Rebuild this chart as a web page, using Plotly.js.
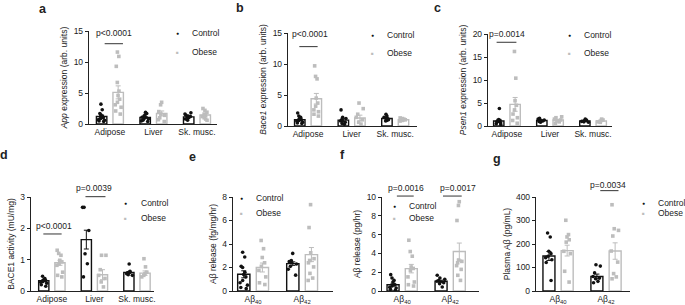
<!DOCTYPE html>
<html><head><meta charset="utf-8">
<script src="https://cdn.plot.ly/plotly-3.0.1.min.js"></script>
<style>html,body{margin:0;padding:0;background:#fff}#chart{width:685px;height:305px}</style>
</head><body><div id="chart"></div>
<script>
// ---------- DATA ----------
const tissueCats = ['Adipose', 'Liver', 'Sk. musc.'];
const abCats = ['Aβ<sub>40</sub>', 'Aβ<sub>42</sub>'];

// a: App expression
const aCtrlMean = [1.2, 1.05, 1.15];
const aCtrlSem  = [0.22, 0.15, 0.12];
const aObMean   = [5.1, 1.7, 1.45];
const aObSem    = [1.05, 0.4, 0.18];
const aCtrlPts = [[3.2, 2.3, 1.7, 1.5, 1.3, 1.1, 1.0, 0.9, 0.7, 0.6, 0.5, 0.4],
                  [1.9, 1.7, 1.5, 1.3, 1.1, 0.9, 0.8, 0.6, 0.5, 0.4],
                  [1.8, 1.6, 1.4, 1.3, 1.2, 1.1, 1.0, 0.8, 0.6]];
const aObPts   = [[11.6, 10.9, 9.3, 6.7, 5.3, 4.6, 4.0, 3.5, 3.1, 2.7, 2.1, 1.6],
                  [3.5, 3.1, 2.0, 1.6, 1.4, 1.0, 0.7, 0.4],
                  [2.5, 2.2, 1.9, 1.6, 1.4, 1.2, 1.0, 0.8, 0.6]];

// b: Bace1 expression
const bCtrlMean = [1.0, 0.95, 1.2];
const bCtrlSem  = [0.15, 0.22, 0.1];
const bObMean   = [4.4, 1.3, 1.0];
const bObSem    = [0.85, 0.45, 0.06];
const bCtrlPts = [[2.1, 1.6, 1.4, 1.2, 1.0, 0.9, 0.8, 0.6, 0.5, 0.4],
                  [2.6, 1.4, 1.2, 1.0, 0.8, 0.6, 0.4, 0.3],
                  [1.9, 1.6, 1.4, 1.3, 1.2, 1.0, 0.9, 0.8]];
const bObPts   = [[9.7, 8.0, 7.6, 4.5, 3.7, 3.2, 2.6, 2.3, 1.9, 1.6],
                  [3.7, 2.8, 1.9, 1.4, 1.0, 0.6, 0.3],
                  [1.3, 1.2, 1.1, 1.0, 1.0, 0.9, 0.8]];

// c: Psen1 expression
const cCtrlMean = [1.1, 1.2, 1.1];
const cCtrlSem  = [0.35, 0.1, 0.06];
const cObMean   = [4.7, 1.3, 1.1];
const cObSem    = [1.5, 0.15, 0.07];
const cCtrlPts = [[3.8, 1.4, 1.2, 1.0, 0.9, 0.7, 0.5, 0.3],
                  [1.7, 1.5, 1.3, 1.2, 1.1, 1.0, 0.8],
                  [1.5, 1.3, 1.2, 1.1, 1.0, 0.9, 0.8]];
const cObPts   = [[16.2, 10.4, 5.5, 4.5, 3.5, 2.6, 1.8, 1.2, 0.6],
                  [2.0, 1.8, 1.5, 1.3, 1.1, 0.9, 0.6],
                  [1.5, 1.3, 1.2, 1.0, 0.9, 0.8]];

// d: BACE1 activity
const dCtrlMean = [0.33, 1.64, 0.59];
const dCtrlSem  = [0.03, 0.3, 0.03];
const dObMean   = [0.9, 0.52, 0.57];
const dObSem    = [0.08, 0.16, 0.07];
const dCtrlPts = [[0.47, 0.4, 0.36, 0.33, 0.3, 0.28, 0.25, 0.2, 0.15],
                  [2.67, 2.67, 1.93, 1.19, 0.87, 0.45],
                  [0.86, 0.63, 0.6, 0.58, 0.55, 0.52, 0.5]];
const dObPts   = [[1.3, 1.2, 1.14, 0.98, 0.93, 0.87, 0.82, 0.6, 0.5, 0.45],
                  [1.14, 1.14, 0.68, 0.5, 0.4, 0.29, 0.13],
                  [1.03, 0.77, 0.6, 0.55, 0.5, 0.45]];

// e: Aβ release (fg/mg/hr)
const eCtrlMean = [1.42, 2.33];
const eCtrlSem  = [0.3, 0.15];
const eObMean   = [2.0, 3.1];
const eObSem    = [0.38, 0.6];
const eCtrlPts = [[3.3, 2.9, 2.1, 2.0, 1.6, 1.4, 1.2, 0.9, 0.7, 0.5, 0.3, 0.2],
                  [3.2, 2.6, 2.5, 2.4, 2.3, 2.1, 1.85, 1.35]];
const eObPts   = [[4.3, 3.6, 2.85, 2.4, 2.1, 1.75, 1.2, 0.7, 0.55],
                  [7.35, 5.4, 3.25, 2.75, 2.6, 2.4, 2.05, 1.5, 1.1, 0.9]];

// f: Aβ release (pg/hr)
const fCtrlMean = [0.67, 1.03];
const fCtrlSem  = [0.15, 0.12];
const fObMean   = [2.38, 4.2];
const fObSem    = [0.45, 0.9];
const fCtrlPts = [[1.74, 1.38, 1.13, 0.96, 0.67, 0.53, 0.4, 0.32, 0.18, 0.1],
                  [1.67, 1.38, 1.24, 1.1, 1.03, 0.89, 0.78, 0.43]];
const fObPts   = [[5.4, 4.2, 3.7, 2.55, 2.4, 2.2, 1.5, 0.96, 0.67, 0.53],
                  [9.5, 9.1, 7.5, 3.3, 3.15, 3.0, 2.7, 2.3, 1.67, 1.13]];

// g: Plasma Aβ (pg/mL)
const gCtrlMean = [149, 62];
const gCtrlSem  = [19, 10];
const gObMean   = [172, 170];
const gObSem    = [23, 35];
const gCtrlPts = [[247, 230, 169, 159, 148, 142, 133, 121, 45],
                  [112, 106, 77, 62, 55, 52, 41, 35]];
const gObPts   = [[301, 240, 230, 218, 208, 169, 159, 84, 38],
                  [367, 265, 258, 234, 170, 123, 74, 60, 52]];

const yTicksA = [0, 5, 10, 15];
const yTicksB = [0, 5, 10, 15];
const yTicksC = [0, 5, 10, 15, 20];
const yTicksD = [0, 1, 2, 3];
const yTicksE = [0, 2, 4, 6, 8];
const yTicksF = [0, 2, 4, 6, 8, 10];
const yTicksG = [0, 100, 200, 300, 400];

// ---------- LAYOUT / STYLE ----------
const W = 685, H = 305;
const CTRL = '#111111', OB = '#bdbdbd', AX = '#222222';
const FONT = 'Liberation Sans, Arial, sans-serif';

const panels = [
  {letter:'a', lp:[43,9], cats:tissueCats, cm:aCtrlMean, cs:aCtrlSem, om:aObMean, os:aObSem, cp:aCtrlPts, op:aObPts,
   xd:[89,217], yd:[31,124], xr:[-0.48,2.46], yr:[0,15], yt:yTicksA, title:'<i>App</i> expression (arb. units)',
   leg:[177,33,52], sig:[['p<0.0001',-0.12,0.3,12.95,0.09,14.7]], off:0.19, bw:0.24},
  {letter:'b', lp:[240,8], cats:tissueCats, cm:bCtrlMean, cs:bCtrlSem, om:bObMean, os:bObSem, cp:bCtrlPts, op:bObPts,
   xd:[288,417], yd:[33,126], xr:[-0.46,2.5], yr:[0,15], yt:yTicksB, title:'<i>Bace1</i> expression (arb. units)',
   leg:[372,35,53], sig:[['p<0.0001',-0.2,0.22,12.8,0.05,14.8]], off:0.19, bw:0.24},
  {letter:'c', lp:[437,8], cats:tissueCats, cm:cCtrlMean, cs:cCtrlSem, om:cObMean, os:cObSem, cp:cCtrlPts, op:cObPts,
   xd:[488,612], yd:[34,126], xr:[-0.44,2.44], yr:[0,20], yt:yTicksC, title:'<i>Psen1</i> expression (arb. units)',
   leg:[569,35,53], sig:[['p=0.0014',-0.24,0.22,18.2,0.0,19.9]], off:0.19, bw:0.24},
  {letter:'d', lp:[4,155], cats:tissueCats, cm:dCtrlMean, cs:dCtrlSem, om:dObMean, os:dObSem, cp:dCtrlPts, op:dObPts,
   xd:[31,154], yd:[197,291], xr:[-0.49,2.4], yr:[0,3], yt:yTicksD, title:'BACE1 activity (mU/mg)',
   leg:[126,203,218], sig:[['p<0.0001',-0.2,0.23,1.82,0.05,2.09],['p=0.0039',0.79,1.26,3.01,0.99,3.3]], off:0.19, bw:0.24},
  {letter:'e', lp:[192,157], cats:abCats, cm:eCtrlMean, cs:eCtrlSem, om:eObMean, os:eObSem, cp:eCtrlPts, op:eObPts,
   xd:[233,333], yd:[197,291], xr:[-0.41,1.63], yr:[0,8], yt:yTicksE, title:'Aβ release (fg/mg/hr)',
   leg:[241,198,213], sig:[], off:0.19, bw:0.25},
  {letter:'f', lp:[342,155], cats:abCats, cm:fCtrlMean, cs:fCtrlSem, om:fObMean, os:fObSem, cp:fCtrlPts, op:fObPts,
   xd:[382,479], yd:[197,291], xr:[-0.42,1.6], yr:[0,10], yt:yTicksF, title:'Aβ release (pg/hr)',
   leg:[394,206,218], sig:[['p=0.0016',-0.11,0.24,10.1,0.08,11.0],['p=0.0017',0.85,1.24,10.1,1.17,11.0]], off:0.19, bw:0.25},
  {letter:'g', lp:[497,159], cats:abCats, cm:gCtrlMean, cs:gCtrlSem, om:gObMean, os:gObSem, cp:gCtrlPts, op:gObPts,
   xd:[536,630], yd:[197,291], xr:[-0.46,1.5], yr:[0,400], yt:yTicksG, title:'Plasma Aβ (pg/mL)',
   leg:[643,203,213], sig:[['p=0.0034',0.88,1.26,427,1.05,451]], off:0.19, bw:0.25},
];

const traces = [];
const layout = {
  width: W, height: H, margin: {l:0, r:0, t:0, b:0}, showlegend: false,
  paper_bgcolor: '#fff', plot_bgcolor: 'rgba(0,0,0,0)', barmode: 'overlay',
  font: {family: FONT, size: 8, color: AX},
  annotations: [], shapes: []
};

function pxX(x) { return x / W; }
function pxY(y) { return 1 - y / H; }

panels.forEach((p, k) => {
  const n = k + 1, xa = 'x' + n, ya = 'y' + n;
  const xName = 'xaxis' + (n === 1 ? '' : n), yName = 'yaxis' + (n === 1 ? '' : n);
  const idx = p.cats.map((_, i) => i);
  const yDom = [pxY(p.yd[1]), pxY(p.yd[0])];

  // bars
  [[p.cm, p.cs, -p.off, CTRL], [p.om, p.os, p.off, OB]].forEach(([m, s, o, col]) => {
    traces.push({type:'bar', x: idx.map(i => i + o), y: m, width: p.bw, xaxis: xa, yaxis: ya,
      marker: {color: '#fff', line: {color: col, width: 1.4}},
      error_y: {type:'data', array: s, visible: true, color: col, thickness: 1, width: 2.5},
      hoverinfo: 'skip'});
  });
  // individual points (jittered by the library)
  [[p.cp, -p.off, CTRL, 'circle'], [p.op, p.off, OB, 'square']].forEach(([pts, o, col, sym]) => {
    const xs = [], ys = [];
    pts.forEach((arr, i) => arr.forEach(v => { xs.push(i + o); ys.push(v); }));
    traces.push({type:'box', x: xs, y: ys, xaxis: xa, yaxis: ya, width: p.bw * 0.9,
      boxpoints: 'all', jitter: 0.85, pointpos: 0, fillcolor: 'rgba(0,0,0,0)',
      line: {width: 0, color: 'rgba(0,0,0,0)'}, whiskerwidth: 0,
      marker: {color: col, size: 3.6, symbol: sym}, hoverinfo: 'skip'});
  });

  layout[xName] = {domain: [pxX(p.xd[0]), pxX(p.xd[1])], range: p.xr, anchor: ya,
    tickvals: idx, ticktext: p.cats, ticks: '', showline: true, linecolor: AX, linewidth: 1.2,
    showgrid: false, zeroline: false, tickfont: {size: 8.5, color: AX}, fixedrange: true};
  layout[yName] = {domain: yDom, range: p.yr, anchor: xa, tickvals: p.yt, ticks: 'outside',
    ticklen: 3, tickwidth: 1, tickcolor: AX, showline: true, linecolor: AX, linewidth: 1.2,
    showgrid: false, zeroline: false, tickfont: {size: 8.5, color: AX}, fixedrange: true,
    title: {text: p.title, font: {size: 8.5, color: AX}, standoff: 4}};

  // panel letter
  layout.annotations.push({xref:'paper', yref:'paper', x: pxX(p.lp[0]), y: pxY(p.lp[1]),
    text: '<b>' + p.letter + '</b>', showarrow: false, xanchor: 'center', yanchor: 'middle',
    font: {size: 12.5, color: AX}});

  // legend
  const [lx, ly1, ly2] = p.leg;
  [[ly1, '●', CTRL, 'Control', 5], [ly2, '■', OB, 'Obese', 4.5]].forEach(([ly, sym, col, lab, fs]) => {
    layout.annotations.push({xref:'paper', yref:'paper', x: pxX(lx), y: pxY(ly), text: sym,
      showarrow: false, xanchor: 'center', yanchor: 'middle', font: {size: fs, color: col}});
    layout.annotations.push({xref:'paper', yref:'paper', x: pxX(lx + 13), y: pxY(ly), text: lab,
      showarrow: false, xanchor: 'left', yanchor: 'middle', font: {size: 8.5, color: AX}});
  });

  // significance
  const toPaperY = v => yDom[0] + (v - p.yr[0]) / (p.yr[1] - p.yr[0]) * (yDom[1] - yDom[0]);
  p.sig.forEach(([txt, x0, x1, ly, tx, ty]) => {
    layout.shapes.push({type:'line', xref: xa, yref:'paper', x0: x0, x1: x1,
      y0: toPaperY(ly), y1: toPaperY(ly), line: {color: '#333', width: 1}});
    layout.annotations.push({xref: xa, yref:'paper', x: tx, y: toPaperY(ty), text: txt,
      showarrow: false, xanchor: 'center', yanchor: 'middle', font: {size: 8.5, color: AX}});
  });
});

Plotly.newPlot('chart', traces, layout, {staticPlot: true, displayModeBar: false});
</script>
</body></html>
